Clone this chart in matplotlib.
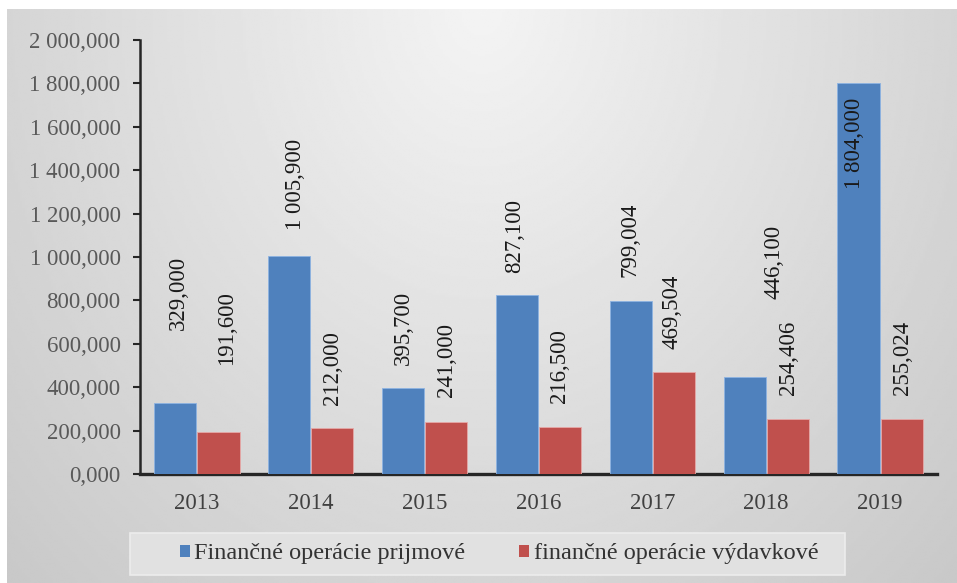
import numpy as np
import matplotlib
matplotlib.use("Agg")
import matplotlib.pyplot as plt
from matplotlib.patches import Rectangle, Patch

# values in thousands EUR
years = ["2013", "2014", "2015", "2016", "2017", "2018", "2019"]
prijmove = [329.0, 1005.9, 395.7, 827.1, 799.004, 446.1, 1804.0]
vydavkove = [191.6, 212.0, 241.0, 216.5, 469.504, 254.406, 255.024]
series_names = ["Finančné operácie prijmové", "finančné operácie výdavkové"]

BLUE = "#4F81BD"
RED = "#C0504D"

# manual label placement (pixels): horizontal shift, gap above bar top
blue_dx = [3, 6, 0, -2, -1, 29, -4]
blue_gap = [73, 26, 23, 22, 24, 78, -15]   # last one sits inside the bar
red_dx = [8, 0, 0, -1, -2, 1, 1]
red_gap = [67, 23, 25, 24, 23, 24, 24]


def sk_fmt(v, pos=None):
    return f"{v:,.3f}".replace(",", " ").replace(".", ",")


plt.rcParams['font.family'] = ['Liberation Serif', 'DejaVu Serif']

fig = plt.figure(figsize=(9.57, 5.83), dpi=100)
fig.patch.set_facecolor("white")

# gray gradient background (white strip at top and left edge)
bg = fig.add_axes([7 / 957, 0, 1 - 7 / 957, 1 - 9 / 583], zorder=-10)
gx = np.linspace(-1, 1, 400)
gy = np.linspace(0, 1, 250)
X, Y = np.meshgrid(gx, gy)
R = np.sqrt(X ** 2 + Y ** 2)
shade = 0.955 - 0.12 * R
bg.imshow(shade, cmap="gray", vmin=0, vmax=1, aspect="auto",
          extent=[0, 1, 0, 1], origin="upper", interpolation="bilinear")
bg.axis("off")

ax = fig.add_axes([140 / 957, 1 - 474 / 583, 797 / 957, 434 / 583])
ax.patch.set_alpha(0)

x = np.arange(len(years))
w = 0.37
b1 = ax.bar(x - 0.19, prijmove, w, color=BLUE, edgecolor="#8db3e2", linewidth=0.6, zorder=3)
b2 = ax.bar(x + 0.19, vydavkove, w, color=RED, edgecolor="#e6a9a8", linewidth=0.6, zorder=3)

for i in range(len(years)):
    va = "top" if blue_gap[i] < 0 else "bottom"
    ax.annotate(sk_fmt(prijmove[i]), (x[i] - 0.19, prijmove[i]),
                xytext=(blue_dx[i], blue_gap[i]), textcoords="offset pixels",
                rotation=90, ha="center", va=va, fontsize=16.5, color="#1a1a1a", zorder=5)
    ax.annotate(sk_fmt(vydavkove[i]), (x[i] + 0.19, vydavkove[i]),
                xytext=(red_dx[i], red_gap[i]), textcoords="offset pixels",
                rotation=90, ha="center", va="bottom", fontsize=16.5, color="#1a1a1a", zorder=5)

ax.set_xlim(-0.5, len(years) - 0.5)
ax.set_ylim(0, 2000)
ax.set_yticks(np.arange(0, 2001, 200))
ax.yaxis.set_major_formatter(plt.FuncFormatter(sk_fmt))
ax.set_xticks(x)
ax.set_xticklabels(years)

for s in ["top", "right"]:
    ax.spines[s].set_visible(False)
ax.spines["left"].set_linewidth(1.8)
ax.spines["left"].set_color("#262626")
ax.spines["bottom"].set_linewidth(2.4)
ax.spines["bottom"].set_color("#262626")
ax.tick_params(axis="y", direction="out", length=5, width=1.5, color="#262626",
               pad=9, labelsize=16.5, labelcolor="#595959")
ax.tick_params(axis="x", length=0, pad=14, labelsize=16.5, labelcolor="#404040")

# legend box
fig.patches.append(Rectangle((130 / 957, 1 - 575 / 583), 715 / 957, 42 / 583,
                             transform=fig.transFigure, facecolor="#e1e1e1",
                             edgecolor="#ececec", linewidth=1.2, zorder=1))
handles = [Patch(facecolor=BLUE), Patch(facecolor=RED)]
fig.legend(handles, series_names, loc="center", bbox_to_anchor=(499 / 957, 1 - 554 / 583),
           ncol=2, frameon=False, fontsize=17.5, handlelength=0.4, handleheight=0.4,
           handletextpad=0.2, columnspacing=2.2, labelcolor="#333333")

fig.savefig("out.png", dpi=100)
